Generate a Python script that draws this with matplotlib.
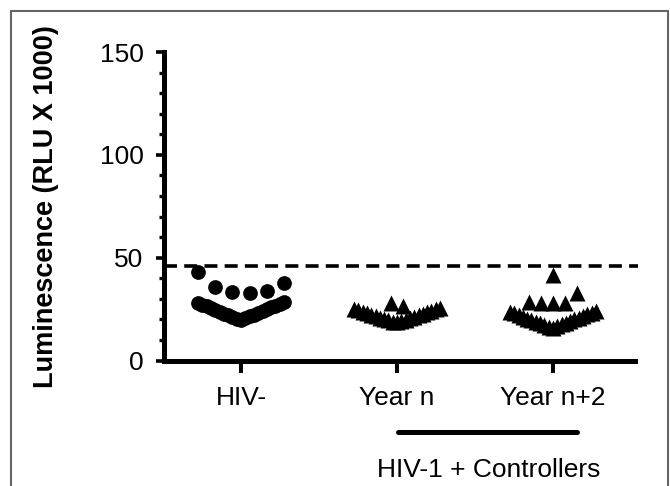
import numpy as np
import matplotlib.pyplot as plt
from matplotlib.patches import Rectangle
from matplotlib.lines import Line2D

plt.rcParams['font.family'] = ['Liberation Sans', 'DejaVu Sans']

# ---- data ----
groups = ['HIV-', 'Year n', 'Year n+2']
hiv_neg = [19.7, 20.1, 20.6, 21.0, 21.4, 21.9, 22.3, 22.8, 23.2, 23.6, 24.1,
           24.5, 25.0, 25.4, 25.8, 26.3, 26.7, 27.1, 27.6, 28.0, 28.4,
           32.9, 33.4, 33.8, 35.9, 37.8, 43.2]
year_n = [18.5, 18.8, 19.2, 19.5, 19.9, 20.2, 20.6, 20.9, 21.3, 21.6, 22.0,
          22.3, 22.7, 23.0, 23.4, 23.7, 24.1, 24.4, 24.8, 25.2, 25.6,
          26.7, 28.2]
year_n2 = [16.0, 16.4, 16.8, 17.2, 17.6, 18.0, 18.4, 18.8, 19.2, 19.6, 20.0,
           20.4, 20.9, 21.3, 21.7, 22.1, 22.5, 22.9, 23.3, 23.7, 24.1,
           28.0, 28.2, 28.2, 28.4, 32.8, 41.5]
cutoff = 46
bracket_label = 'HIV-1 + Controllers'
ylabel = 'Luminescence (RLU X 1000)'


def dot_offsets(vals, step, width, max_n=21, h=11):
    # prism-like column scatter: rows of points, lowest in the middle,
    # then alternating left / right
    vals = np.asarray(vals)
    order = np.argsort(vals, kind='stable')
    rows, cur = [], []
    for i in order:
        if cur and (len(cur) >= max_n or vals[i] - vals[cur[0]] > h):
            rows.append(cur)
            cur = []
        cur.append(i)
    rows.append(cur)
    xs = np.zeros(len(vals))
    for row in rows:
        n = len(row)
        sp = min(step, width / (n - 1)) if n > 1 else 0
        slots = [0]
        k = 1
        while len(slots) < n:
            slots += [-k, k]
            k += 1
        slots = np.array(slots[:n], dtype=float)
        slots -= slots.mean()
        for s, i in zip(slots, row):
            xs[i] = s * sp
    return xs


fig = plt.figure(figsize=(6.7, 4.86), dpi=100)
ax = fig.add_axes([164 / 670, 1 - 360.5 / 486, (635 - 164) / 670, (360.5 - 52) / 486])
ax.set_xlim(-0.494, 2.526)
ax.set_ylim(0, 150)

px_per_unit = ax.get_position().width * 670 / (2.526 + 0.494)

series = [(hiv_neg, 'o', 10.6, 17.5), (year_n, '^', 11.5, 12), (year_n2, '^', 11.5, 12)]
for pos, (vals, mk, ms, step) in enumerate(series):
    off = dot_offsets(vals, step, 86) / px_per_unit
    ax.plot(pos + off, vals, mk, ms=ms, color='black', mec='none', clip_on=False, zorder=3)

# cutoff line
ax.plot([-0.494, 2.545], [cutoff, cutoff], color='black', lw=2.6,
        dashes=(3.6, 2.0), clip_on=False, zorder=2)

# axes styling
for side in ['top', 'right']:
    ax.spines[side].set_visible(False)
for side in ['left', 'bottom']:
    ax.spines[side].set_linewidth(3.6)
    ax.spines[side].set_capstyle('projecting')

ax.set_yticks([0, 50, 100, 150])
ax.set_yticks(np.arange(0, 151, 10), minor=True)
ax.set_xticks(range(len(groups)))
ax.set_xticklabels(groups)
ax.tick_params(axis='y', which='major', length=5.8, width=2.6, pad=9, labelsize=19)
ax.tick_params(axis='y', which='minor', length=3.6, width=2.4)
ax.tick_params(axis='x', which='major', length=8.6, width=2.9, pad=10, labelsize=19)

fig.text(46 / 670, 1 - 207 / 486, ylabel, rotation=90, ha='center', va='center',
         fontsize=19.5, fontweight='bold')

# bracket under the controller groups
fig.add_artist(Line2D([398 / 670, 577 / 670], [1 - 432 / 486, 1 - 432 / 486],
                      color='black', lw=3.6, solid_capstyle='round'))
fig.text(489 / 670, 1 - 470 / 486, bracket_label, ha='center', va='center', fontsize=19)

# grey frame round the panel
fig.add_artist(Rectangle((11 / 670, -0.1), (668 - 11) / 670, 1.1 - 11 / 486,
                         transform=fig.transFigure, fill=False,
                         edgecolor='#666666', lw=1.5))

fig.savefig('out.png', dpi=100)
